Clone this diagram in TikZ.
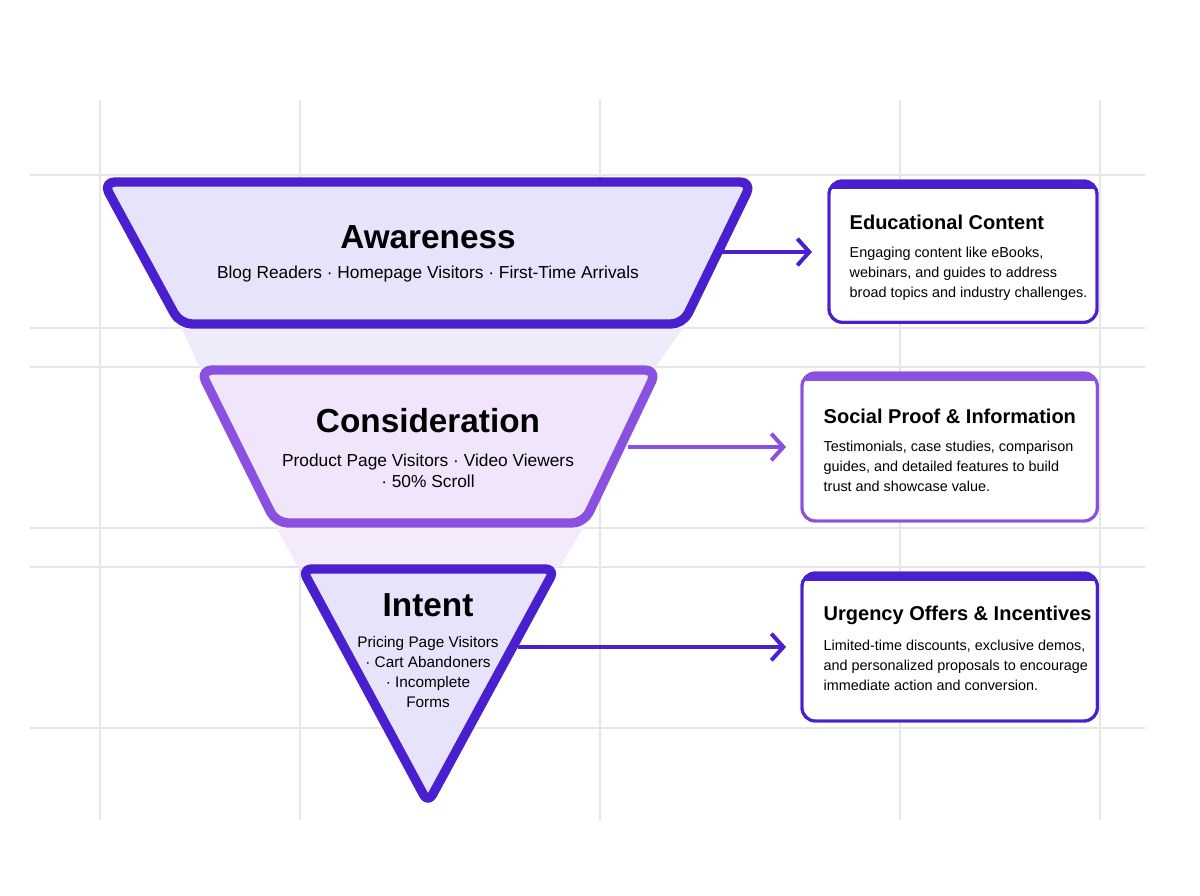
\documentclass[tikz,border=0pt]{standalone}
\usepackage{fontspec}
\setmainfont{Liberation Sans}
\usetikzlibrary{arrows.meta,calc}
\definecolor{dp}{HTML}{4A1FD0}
\definecolor{mp}{HTML}{8A50E0}
\definecolor{f1}{HTML}{E7E3FA}
\definecolor{f2}{HTML}{F0E5FA}
\definecolor{gl}{HTML}{E6E6EA}
\begin{document}
\begin{tikzpicture}[x=0.75pt,y=-0.75pt,
  grid/.style={gl,line width=0.8pt},
  stage/.style={line width=7pt,line join=round,rounded corners=9pt},
  conn/.style={line width=3pt,-{Straight Barb[length=9pt,width=20pt,line width=3pt]}},
  box/.style={line width=2.2pt,rounded corners=10pt,fill=white,inner sep=0pt,outer sep=0pt,anchor=north west},
  ttl/.style={font=\bfseries\fontsize{15}{18}\selectfont,anchor=west},
  bod/.style={font=\fontsize{10.8}{15}\selectfont,align=left,anchor=north west},
  big/.style={font=\bfseries\fontsize{25}{28}\selectfont},
  sub/.style={font=\fontsize{13}{16}\selectfont,align=center}]
\useasboundingbox (0,0) rectangle (1200,896);
\fill[white] (0,0) rectangle (1200,896);
% grid
\foreach \x in {100,300,600,900,1100} \draw[grid] (\x,100) -- (\x,820);
\foreach \y in {175,328,367,528,567,728} \draw[grid] (30,\y) -- (1145,\y);
% bands
\fill[f1!70] (180,325) -- (685,325) -- (655,368) -- (200,368) -- cycle;
\fill[f2!80] (275,525) -- (585,525) -- (560,567) -- (298,567) -- cycle;
% stages
\draw[stage,dp,fill=f1] (103,182) -- (752,182) -- (683,324) -- (180,324) -- cycle;
\draw[stage,mp,fill=f2] (200,370) -- (657,370) -- (584,523) -- (276,523) -- cycle;
\draw[stage,dp,fill=f1,rounded corners=7pt] (302,569) -- (555,569) -- (428,803) -- cycle;
\node[big] (aw) at (428,237) {Awareness};
\node[sub] (aws) at (428,274) {Blog Readers · Homepage Visitors · First-Time Arrivals};
\node[big] (co) at (428,421) {Consideration};
\node[sub] (cos) at (428,471) {Product Page Visitors · Video Viewers\\· 50\% Scroll};
\node[big] (in) at (428,605) {Intent};
\node[font=\fontsize{11.5}{15}\selectfont,align=center] (ins) at (428,672) {Pricing Page Visitors\\· Cart Abandoners\\· Incomplete\\Forms};
% boxes
\node[box,draw=dp,minimum width=201pt,minimum height=106pt] (b1) at (829,181) {};
\node[box,draw=mp,minimum width=221.5pt,minimum height=111pt] (b2) at (802,373) {};
\node[box,draw=dp,minimum width=221.5pt,minimum height=111pt] (b3) at (802,573) {};
\foreach \b/\c in {b1/dp,b2/mp,b3/dp}{
  \begin{scope}
  \clip[rounded corners=10pt] (\b.north west) rectangle (\b.south east);
  \fill[\c] ($(\b.north west)+(0,-2)$) rectangle ($(\b.north east)+(0,8)$);
  \end{scope}
  \draw[\c,line width=2.2pt,rounded corners=10pt] (\b.north west) rectangle (\b.south east);
}
\node[ttl] at (845,222) {Educational Content};
\node[bod] at (845,242) {Engaging content like eBooks,\\webinars, and guides to address\\broad topics and industry challenges.};
\node[ttl] at (819,416) {Social Proof \& Information};
\node[bod] at (819,436) {Testimonials, case studies, comparison\\guides, and detailed features to build\\trust and showcase value.};
\node[ttl] at (819,615) {Urgency Offers \& Incentives};
\node[bod] at (819,635) {Limited-time discounts, exclusive demos,\\and personalized proposals to encourage\\immediate action and conversion.};
% connectors
\coordinate (e1) at (812,252); \coordinate (e2) at (786,447); \coordinate (e3) at (786,647);
\draw[conn,dp] (720,252) -- (e1);
\draw[conn,mp] (628,447) -- (e2);
\draw[conn,dp] (518,647) -- (e3);
\end{tikzpicture}
\end{document}
